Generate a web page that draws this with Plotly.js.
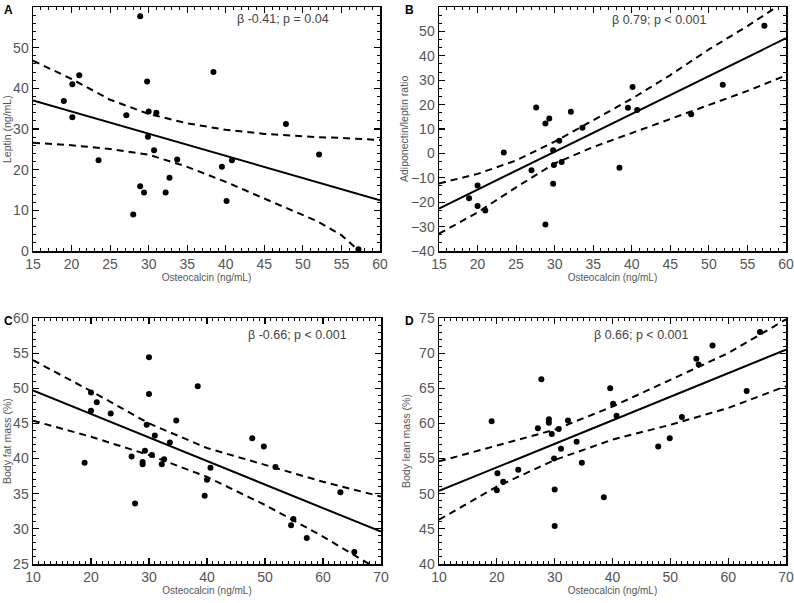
<!DOCTYPE html>
<html>
<head>
<meta charset="utf-8">
<script src="https://cdn.plot.ly/plotly-3.0.1.min.js"></script>
<style>html,body{margin:0;padding:0;background:#fff;}#chart{width:794px;height:603px;}</style>
</head>
<body>
<div id="chart"></div>
<script>
// ---- Panel A: Leptin vs Osteocalcin ----
const aX = [19.0,20.1,21.0,20.1,23.5,27.1,28.9,29.8,30.0,31.0,29.9,30.7,33.7,32.7,28.9,29.4,32.2,28.0,38.4,39.5,40.8,40.1,47.8,52.1,57.2];
const aY = [36.9,41.0,43.2,32.9,22.3,33.4,57.7,41.7,34.3,34.0,28.1,24.8,22.5,18.0,15.9,14.4,14.4,9.0,44.0,20.7,22.3,12.3,31.2,23.7,0.4];
const aFitX = [15,60];
const aFitY = [37.0,12.5];
const aBandX = [15,20,25,30,35,40,45,50,52,55,57.3,60];
const aUpY   = [46.8,42.3,37.2,33.7,31.4,29.8,28.8,28.2,28.0,27.8,27.6,27.3];
const aLoY   = [26.6,26.0,25.1,23.7,20.7,17.0,12.9,8.9,7.2,3.9,0.0,-3.5];

// ---- Panel B: Adiponectin/leptin ratio vs Osteocalcin ----
const bX = [18.9,20.0,20.0,21.0,23.4,27.0,27.6,28.8,29.3,28.8,29.8,29.9,29.8,30.6,30.9,32.1,33.6,38.4,39.5,40.1,40.7,47.7,51.8,57.2];
const bY = [-18.4,-13.2,-21.6,-23.4,0.4,-6.9,18.8,12.3,14.3,-29.1,1.3,-4.8,-12.4,5.2,-3.5,17.1,10.5,-5.9,18.7,27.2,17.8,16.0,28.1,52.3];
const bFitX = [15,60];
const bFitY = [-22.6,47.2];
const bBandX = [15,20,25,30,35,40,45,50,55,60];
const bUpY   = [-12.3,-8.4,-2.9,4.8,13.6,22.4,32.1,42.6,52.2,62.5];
const bLoY   = [-32.9,-24.2,-13.9,-4.1,2.6,8.4,14.0,19.8,25.6,32.0];

// ---- Panel C: Body fat mass vs Osteocalcin ----
const cX = [18.9,20.0,20.0,21.0,23.4,27.0,27.6,28.9,28.9,29.3,29.6,30.0,30.0,30.5,31.0,32.2,32.6,33.6,34.7,38.4,39.6,40.0,40.6,47.8,49.8,51.8,54.5,54.9,57.2,63.0,65.4];
const cY = [39.4,49.4,46.8,48.0,46.4,40.3,33.6,39.5,39.2,41.1,44.8,54.4,49.2,40.5,43.3,39.2,39.9,42.3,45.4,50.3,34.7,37.0,38.7,42.9,41.7,38.8,30.5,31.4,28.7,35.2,26.7];
const cFitX = [10,70];
const cFitY = [49.7,29.6];
const cBandX = [10,20,30,40,50,60,70];
const cUpY   = [54.0,49.6,45.0,41.5,39.1,36.7,34.6];
const cLoY   = [45.4,43.1,40.5,37.4,33.4,28.9,24.0];

// ---- Panel D: Body lean mass vs Osteocalcin ----
const dX = [19.1,20.1,20.0,21.1,23.7,27.1,27.7,29.0,29.0,29.5,29.9,30.0,30.0,30.7,31.1,32.3,33.8,34.7,38.5,39.6,40.1,40.7,47.9,49.9,52.0,54.5,54.9,57.3,63.2,65.5];
const dY = [60.3,52.9,50.5,51.7,53.4,59.3,66.3,60.1,60.6,58.5,55.0,50.6,45.4,59.2,56.4,60.4,57.4,54.4,49.5,65.0,62.8,61.1,56.7,57.9,60.9,69.2,68.4,71.1,64.6,73.0];
const dFitX = [10,70];
const dFitY = [50.4,70.5];
const dBandX = [10,20,30,40,50,60,70];
const dUpY   = [54.6,56.8,59.1,62.4,66.2,70.0,74.8];
const dLoY   = [46.3,51.0,54.8,57.7,59.8,62.2,65.3];

const panelLetters = ["A","B","C","D"];
const yTitles = ["Leptin (ng/mL)","Adiponectin/leptin ratio","Body fat mass (%)","Body lean mass (%)"];
const xTitle = "Osteocalcin (ng/mL)";
const statTexts = ["\u03b2 -0.41; p = 0.04","\u03b2 0.79; p < 0.001","\u03b2 -0.66; p < 0.001","\u03b2 0.66; p < 0.001"];

const FONT = '"Liberation Sans", Arial, sans-serif';
const panels = [
  {x:aX,y:aY,fx:aFitX,fy:aFitY,bx:aBandX,up:aUpY,lo:aLoY},
  {x:bX,y:bY,fx:bFitX,fy:bFitY,bx:bBandX,up:bUpY,lo:bLoY},
  {x:cX,y:cY,fx:cFitX,fy:cFitY,bx:cBandX,up:cUpY,lo:cLoY},
  {x:dX,y:dY,fx:dFitX,fy:dFitY,bx:dBandX,up:dUpY,lo:dLoY}
];
const axNames = [["x","y"],["x2","y2"],["x3","y3"],["x4","y4"]];
const traces = [];
panels.forEach((p,i)=>{
  const [xa,ya] = axNames[i];
  traces.push({x:p.bx,y:p.up,xaxis:xa,yaxis:ya,mode:'lines',type:'scatter',line:{color:'#000',width:2,dash:'7px,5px'},hoverinfo:'skip'});
  traces.push({x:p.bx,y:p.lo,xaxis:xa,yaxis:ya,mode:'lines',type:'scatter',line:{color:'#000',width:2,dash:'7px,5px'},hoverinfo:'skip'});
  traces.push({x:p.fx,y:p.fy,xaxis:xa,yaxis:ya,mode:'lines',type:'scatter',line:{color:'#000',width:2}});
  traces.push({x:p.x,y:p.y,xaxis:xa,yaxis:ya,mode:'markers',type:'scatter',marker:{color:'#000',size:6},cliponaxis:true});
});

const W=794,H=603;
const dom = [
  {x:[33/W,380/W], y:[1-251/H,1-7/H]},
  {x:[439/W,786/W], y:[1-251/H,1-7/H]},
  {x:[33/W,381/W], y:[1-564/H,1-318/H]},
  {x:[439/W,786/W], y:[1-564/H,1-318/H]}
];
const xr = [[15,60.0001],[15,60.0001],[10,70.0001],[10,70.0001]];
const yr = [[0,60.0001],[-40,60.0001],[25,60.0001],[40,75.0001]];
const xdt = [5,5,10,10];
const ydt = [10,10,5,5];
const yminor = [2,10/3,1,1];

function xaxis(i){
  return {domain:dom[i].x, range:xr[i], dtick:xdt[i], tick0:0, anchor:axNames[i][1],
    showline:true, linecolor:'#000', linewidth:1.5, mirror:'ticks', ticks:'inside', ticklen:6, tickwidth:1.2, tickcolor:'#000',
    minor:{dtick:1, tick0:0, ticks:'inside', ticklen:3, tickwidth:1, tickcolor:'#000'},
    showgrid:false, zeroline:false, tickfont:{family:FONT,size:14,color:'#555'},
    title:{text:xTitle, font:{family:FONT,size:10,color:'#555'}, standoff:2}, automargin:false, fixedrange:true};
}
function yaxis(i){
  return {domain:dom[i].y, range:yr[i], dtick:ydt[i], tick0:0, anchor:axNames[i][0],
    showline:true, linecolor:'#000', linewidth:1.5, mirror:'ticks', ticks:'inside', ticklen:6, tickwidth:1.2, tickcolor:'#000',
    minor:{dtick:yminor[i], tick0:0, ticks:'inside', ticklen:3, tickwidth:1, tickcolor:'#000'},
    showgrid:false, zeroline:false, tickfont:{family:FONT,size:14,color:'#555'},
    automargin:false, fixedrange:true};
}
const layout = {
  width:W, height:H, margin:{l:0,r:0,t:0,b:0}, paper_bgcolor:'#fff', plot_bgcolor:'#fff', showlegend:false,
  xaxis:xaxis(0), yaxis:yaxis(0), xaxis2:xaxis(1), yaxis2:yaxis(1), xaxis3:xaxis(2), yaxis3:yaxis(2), xaxis4:xaxis(3), yaxis4:yaxis(3),
  annotations:[]
};
const letterPos = [[8,10],[409,10],[8,321],[409,321]];
panelLetters.forEach((L,i)=>{
  layout.annotations.push({text:'<b>'+L+'</b>', xref:'paper', yref:'paper', x:letterPos[i][0]/W, y:1-letterPos[i][1]/H, xanchor:'center', yanchor:'middle', showarrow:false, font:{family:FONT,size:12,color:'#000'}});
});
const yTitlePos = [[7,129],[404,129],[7,441],[406,441]];
yTitles.forEach((t,i)=>{
  layout.annotations.push({text:t, xref:'paper', yref:'paper', x:yTitlePos[i][0]/W, y:1-yTitlePos[i][1]/H, xanchor:'center', yanchor:'middle', textangle:-90, showarrow:false, font:{family:FONT,size:10.5,color:'#555'}});
});
const statPos = [[283,19],[659,20],[297,335],[641,335]];
statTexts.forEach((t,i)=>{
  layout.annotations.push({text:t, xref:'paper', yref:'paper', x:statPos[i][0]/W, y:1-statPos[i][1]/H, xanchor:'center', yanchor:'middle', showarrow:false, font:{family:FONT,size:12.5,color:'#444'}});
});
Plotly.newPlot('chart', traces, layout, {staticPlot:true});
</script>
</body>
</html>
